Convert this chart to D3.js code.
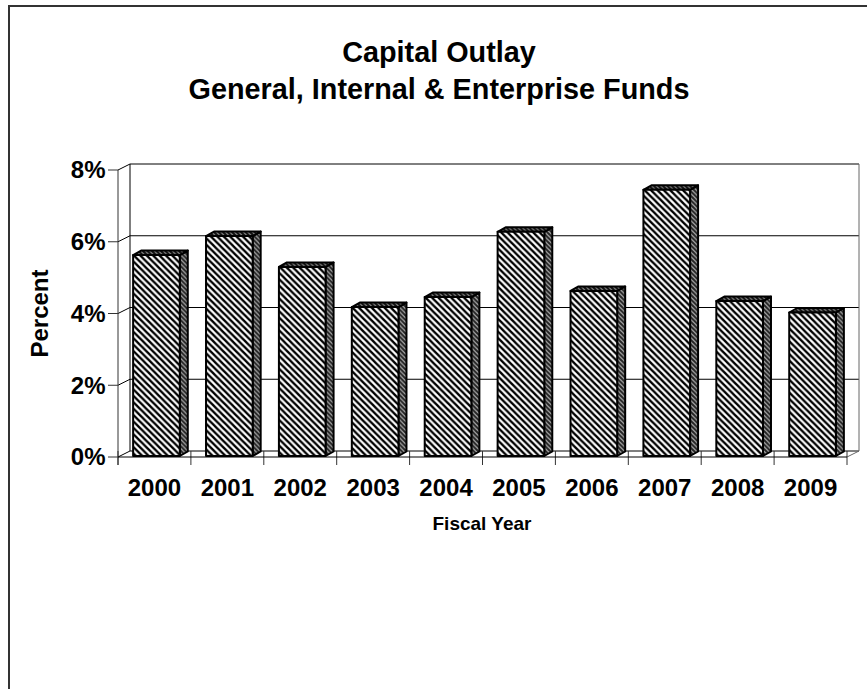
<!DOCTYPE html>
<html><head><meta charset="utf-8"><script src="https://cdn.jsdelivr.net/npm/d3@7"></script>
<style>html,body{margin:0;padding:0;background:#fff}svg{display:block}text{font-family:"Liberation Sans",Arial,sans-serif;font-weight:bold;fill:#000}</style></head>
<body><svg id="c" width="867" height="689"></svg>
<script>
const years=["2000","2001","2002","2003","2004","2005","2006","2007","2008","2009"];
const percent=[5.6,6.13,5.27,4.15,4.43,6.25,4.6,7.42,4.32,4.0];
const yTicks=[0,2,4,6,8];
const titleLines=["Capital Outlay","General, Internal & Enterprise Funds"];
const svg=d3.select("#c");
const W=867,H=689;
const dx=12,dy=6,bdx=8,bdy=4.5,ox=2,oy=1;
const x=d3.scaleBand().domain(years).range([118,847]).paddingInner(.36).paddingOuter(.18);
const y=d3.scaleLinear().domain([0,8]).range([457,170]);
const defs=svg.append("defs");
function stripes(id,bg,fg,size,w){
 const p=defs.append("pattern").attr("id",id).attr("patternUnits","userSpaceOnUse").attr("width",size).attr("height",size);
 p.append("rect").attr("width",size).attr("height",size).attr("fill",bg);
 p.append("path").attr("d",`M${-size},0L${size*2},${size*3}M${-size},${-size}L${size*2},${size*2}M0,${-size}L${size*2},${size}M${-size},${size}L${size},${size*3}`).attr("stroke",fg).attr("stroke-width",w);
}
stripes("front","#fff","#000",6.4,2.4);
stripes("side","#aaa","#222",4.5,2);
stripes("top","#999","#111",4.5,2.2);
// frame
svg.append("path").attr("d",`M9,${H}V6H${W}`).attr("fill","none").attr("stroke","#333").attr("stroke-width",2);
// walls
const g=svg.append("g").attr("fill","none").attr("stroke","#000").attr("stroke-width",1);
g.selectAll("line.grid").data(yTicks).join("line").attr("x1",118+dx).attr("x2",847+dx).attr("y1",d=>y(d)-dy).attr("y2",d=>y(d)-dy);
g.selectAll("line.slant").data(yTicks).join("line").attr("x1",118).attr("x2",118+dx).attr("y1",d=>y(d)).attr("y2",d=>y(d)-dy);
g.append("line").attr("x1",118).attr("x2",118).attr("y1",y(8)).attr("y2",y(0)+8).attr("stroke","#333");
g.append("line").attr("x1",130).attr("x2",130).attr("y1",y(8)-dy).attr("y2",y(0)-dy);
g.append("line").attr("x1",859).attr("x2",859).attr("y1",y(8)-dy).attr("y2",y(0)-dy).attr("stroke","#666");
g.append("line").attr("x1",847).attr("x2",859).attr("y1",y(0)).attr("y2",y(0)-dy).attr("stroke","#666");
// ticks
g.selectAll("line.yt").data(yTicks).join("line").attr("x1",108).attr("x2",118).attr("y1",d=>y(d)).attr("y2",d=>y(d)).attr("stroke","#333");
const xt=[118,...years.map(d=>x(d)+x.bandwidth()+x.step()*x.paddingInner()/2)];
g.selectAll("line.xt").data(xt).join("line").attr("x1",d=>d).attr("x2",d=>d).attr("y1",y(0)-6).attr("y2",y(0)+8).attr("stroke","#333");
g.append("line").attr("x1",118).attr("x2",847).attr("y1",y(0)).attr("y2",y(0));
// bars
const b=svg.selectAll("g.bar").data(years.map((d,i)=>({d,v:percent[i]}))).join("g").attr("stroke","#000").attr("stroke-width",2).attr("stroke-linejoin","round");
const bx=d=>x(d.d)+ox, bw=x.bandwidth(), by=d=>y(d.v)-oy, b0=y(0)-oy;
b.append("path").attr("fill","url(#side)").attr("d",d=>`M${bx(d)+bw},${by(d)}l${bdx},${-bdy}V${b0-bdy}l${-bdx},${bdy}Z`);
b.append("path").attr("fill","url(#top)").attr("d",d=>`M${bx(d)},${by(d)}l${bdx},${-bdy}h${bw}l${-bdx},${bdy}Z`);
b.append("rect").attr("fill","url(#front)").attr("x",bx).attr("y",by).attr("width",bw).attr("height",d=>b0-by(d));
// text
svg.selectAll("text.t").data(titleLines).join("text").attr("x",439).attr("y",(d,i)=>62+i*37).attr("text-anchor","middle").attr("font-size",28.8).text(d=>d);
svg.selectAll("text.yl").data(yTicks).join("text").attr("x",105.5).attr("y",d=>y(d)+8.3).attr("text-anchor","end").attr("font-size",24).text(d=>d+"%");
svg.selectAll("text.xl").data(years).join("text").attr("x",d=>x(d)+x.bandwidth()/2).attr("y",496).attr("text-anchor","middle").attr("font-size",24).text(d=>d);
svg.append("text").attr("x",482).attr("y",530).attr("text-anchor","middle").attr("font-size",19).text("Fiscal Year");
svg.append("text").attr("transform","translate(47.5,313.5) rotate(-90)").attr("text-anchor","middle").attr("font-size",24).text("Percent");
</script></body></html>
